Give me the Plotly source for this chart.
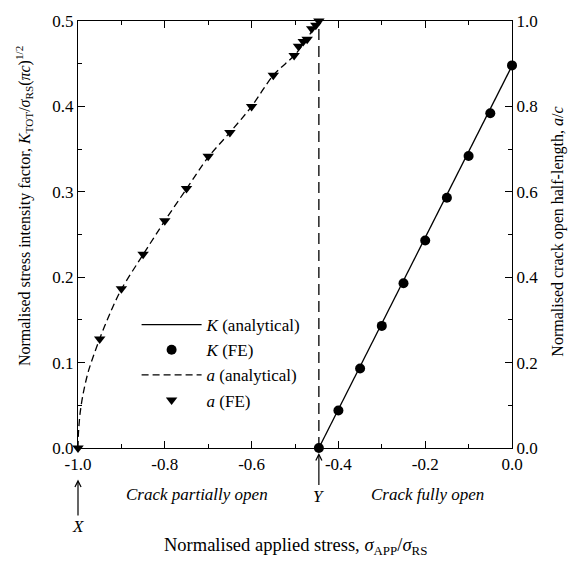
import plotly.graph_objects as go

# ---- data ----
k_fe_x = [-0.445, -0.4, -0.35, -0.3, -0.25, -0.2, -0.15, -0.1, -0.05, 0.0]
k_fe_y = [0.0, 0.044, 0.093, 0.143, 0.193, 0.243, 0.293, 0.342, 0.392, 0.448]
k_an_x = [-0.445, 0.0]
k_an_y = [0.0, 0.4475]

a_an_x = [-1.0, -0.999, -0.998, -0.995, -0.988, -0.976, -0.95, -0.926, -0.9, -0.85, -0.8,
          -0.75, -0.7, -0.65, -0.6, -0.55, -0.5, -0.475, -0.46, -0.445]
a_an_y = [0.0, 0.035, 0.05, 0.083, 0.128, 0.180, 0.256, 0.316, 0.372, 0.453, 0.532,
          0.607, 0.681, 0.739, 0.800, 0.873, 0.921, 0.955, 0.978, 1.0]

a_fe_x = [-1.0, -0.95, -0.9, -0.85, -0.8, -0.75, -0.7, -0.65, -0.6, -0.55,
          -0.502, -0.492, -0.481, -0.472, -0.4615, -0.452, -0.445]
a_fe_y = [0.0, 0.255, 0.373, 0.454, 0.532, 0.608, 0.683, 0.739, 0.800, 0.873,
          0.919, 0.941, 0.952, 0.957, 0.982, 0.990, 1.0]

y_point = -0.445
x_ticks = [-1.0, -0.8, -0.6, -0.4, -0.2, 0.0]
x_ticktext = ["-1.0", "-0.8", "-0.6", "-0.4", "-0.2", "0.0"]
yl_ticks = [0.0, 0.1, 0.2, 0.3, 0.4, 0.5]
yl_ticktext = ["0.0", "0.1", "0.2", "0.3", "0.4", "0.5"]
yr_ticks = [0.0, 0.2, 0.4, 0.6, 0.8, 1.0]
yr_ticktext = ["0.0", "0.2", "0.4", "0.6", "0.8", "1.0"]

FONT = "Liberation Serif, Times New Roman, serif"
BLACK = "black"

fig = go.Figure()
fig.add_trace(go.Scatter(x=k_an_x, y=k_an_y, mode="lines", name="<i>K</i> (analytical)",
                         line=dict(color=BLACK, width=1.3), yaxis="y", cliponaxis=False))
fig.add_trace(go.Scatter(x=k_fe_x, y=k_fe_y, mode="markers", name="<i>K</i> (FE)",
                         marker=dict(color=BLACK, size=10, symbol="circle"), yaxis="y",
                         cliponaxis=False))
fig.add_trace(go.Scatter(x=a_an_x, y=a_an_y, mode="lines", name="<i>a</i> (analytical)",
                         line=dict(color=BLACK, width=1.3, dash="7px,4px", shape="spline",
                                   smoothing=0.8),
                         yaxis="y2", cliponaxis=False))
fig.add_trace(go.Scatter(x=a_fe_x, y=a_fe_y, mode="markers", name="<i>a</i> (FE)",
                         marker=dict(color=BLACK, size=10, symbol="triangle-down"),
                         yaxis="y2", cliponaxis=False))

# vertical dashed line at Y
fig.add_shape(type="line", xref="x", yref="paper", x0=y_point, x1=y_point, y0=0, y1=1,
              line=dict(color=BLACK, width=1.3, dash="11px,6px"), layer="below")

axis_common = dict(showline=True, linecolor=BLACK, linewidth=1.3, ticks="inside",
                   tickcolor=BLACK, tickwidth=1.3, ticklen=7, showgrid=False, zeroline=False,
                   tickfont=dict(family=FONT, size=17, color=BLACK))

fig.update_layout(
    width=577, height=565,
    margin=dict(l=78, r=65, t=14, b=117),
    paper_bgcolor="white", plot_bgcolor="white",
    font=dict(family=FONT, size=17, color=BLACK),
    xaxis=dict(range=[-1, 0], tickvals=x_ticks, ticktext=x_ticktext, mirror="ticks",
               minor=dict(dtick=0.1, tick0=0, ticks="inside", ticklen=4, tickcolor=BLACK, tickwidth=1.3),
               **axis_common),
    yaxis=dict(range=[0, 0.5], tickvals=yl_ticks, ticktext=yl_ticktext, mirror=False,
               minor=dict(dtick=0.05, tick0=0, ticks="inside", ticklen=4, tickcolor=BLACK, tickwidth=1.3),
               **axis_common),
    yaxis2=dict(range=[0, 1], tickvals=yr_ticks, ticktext=yr_ticktext, overlaying="y", side="right",
                minor=dict(dtick=0.1, tick0=0, ticks="inside", ticklen=4, tickcolor=BLACK, tickwidth=1.3),
                **axis_common),
    showlegend=True,
    legend=dict(x=0.135, y=0.33, xanchor="left", yanchor="top", bgcolor="rgba(0,0,0,0)",
                font=dict(family=FONT, size=17, color=BLACK), itemwidth=60, tracegroupgap=0),
)

annots = [
    dict(text="Normalised applied stress, <i>σ</i><sub>APP</sub>/<i>σ</i><sub>RS</sub>",
         xref="paper", yref="paper", x=0.502, y=-0.23, xanchor="center", yanchor="middle",
         showarrow=False, font=dict(family=FONT, size=18.5)),
    dict(text="Normalised stress intensity factor, <i>K</i><sub>TOT</sub>/<i>σ</i><sub>RS</sub>(<i>πc</i>)<sup>1/2</sup>",
         xref="paper", yref="paper", x=-0.124, y=0.567, xanchor="center", yanchor="middle",
         showarrow=False, textangle=-90, font=dict(family=FONT, size=16)),
    dict(text="Normalised crack open half-length, <i>a</i>/<i>c</i>",
         xref="paper", yref="paper", x=1.104, y=0.507, xanchor="center", yanchor="middle",
         showarrow=False, textangle=-90, font=dict(family=FONT, size=16)),
    dict(text="<i>Crack partially open</i>", xref="x", yref="paper", x=-0.725, y=-0.108,
         xanchor="center", yanchor="middle", showarrow=False, font=dict(family=FONT, size=17)),
    dict(text="<i>Crack fully open</i>", xref="x", yref="paper", x=-0.194, y=-0.108,
         xanchor="center", yanchor="middle", showarrow=False, font=dict(family=FONT, size=17)),
    dict(text="<i>X</i>", xref="x", yref="paper", x=-1.0, y=-0.074, ax=0, ay=47,
         showarrow=True, arrowhead=5, arrowsize=1.0, arrowwidth=1.2, arrowcolor=BLACK,
         font=dict(family=FONT, size=17)),
    dict(text="<i>Y</i>", xref="x", yref="paper", x=y_point, y=-0.012, ax=0, ay=43,
         showarrow=True, arrowhead=5, arrowsize=1.0, arrowwidth=1.2, arrowcolor=BLACK,
         font=dict(family=FONT, size=17)),
]
fig.update_layout(annotations=annots)

fig.write_html("out.html")
